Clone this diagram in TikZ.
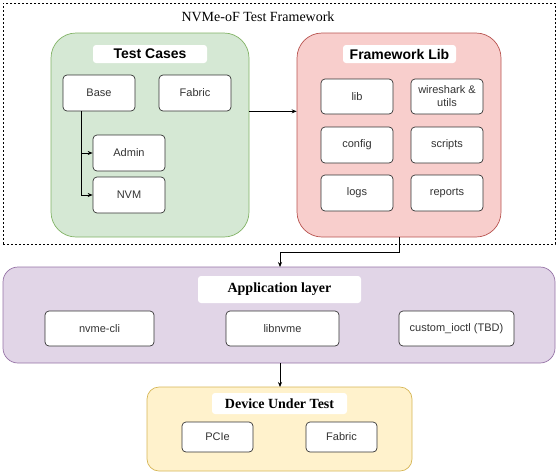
\documentclass[tikz,border=0pt]{standalone}
\usepackage{fontspec}
\setmainfont{Liberation Serif}
\setsansfont{Liberation Sans}
\usetikzlibrary{arrows.meta}
\definecolor{gfill}{HTML}{D5E8D4}\definecolor{gdraw}{HTML}{82B366}
\definecolor{rfill}{HTML}{F8CECC}\definecolor{rdraw}{HTML}{B85450}
\definecolor{pfill}{HTML}{E1D5E7}\definecolor{pdraw}{HTML}{9673A6}
\definecolor{yfill}{HTML}{FFF2CC}\definecolor{ydraw}{HTML}{D6B656}
\definecolor{inkc}{HTML}{333333}
\tikzset{
  group/.style={rounded corners=#1, line width=0.7pt, inner sep=0pt},
  lbl/.style={fill=white, rounded corners=3pt, inner sep=0pt, font=\sffamily\bfseries\fontsize{14}{16}\selectfont},
  slbl/.style={fill=white, rounded corners=3pt, inner sep=0pt, font=\rmfamily\bfseries\fontsize{14}{16}\selectfont},
  item/.style={draw=inkc, fill=white, rounded corners=4pt, line width=0.7pt, inner sep=0pt, align=center, text=inkc, font=\sffamily\fontsize{11}{13}\selectfont},
  conn/.style={line width=0.7pt, -{Stealth[length=5pt,width=4pt]}}
}
\begin{document}
\begin{tikzpicture}[x=1pt,y=-1pt]
\useasboundingbox (0,0) rectangle (559,475);
% outer dashed frame
\node[draw=black, dash pattern=on 2pt off 2pt, line width=0.6pt, minimum width=552pt, minimum height=241pt, inner sep=0pt] (frame) at (279,123.5) {};
\node[font=\rmfamily\fontsize{14}{16}\selectfont] (title) at (258,17) {NVMe-oF Test Framework};
% Test cases
\node[group=25pt, draw=gdraw, fill=gfill, minimum width=198pt, minimum height=204pt] (tc) at (150,135) {};
\node[lbl, minimum width=114pt, minimum height=18pt] (tcl) at (150,54) {Test Cases};
\node[item, minimum width=72pt, minimum height=36pt] (base) at (99,93) {Base};
\node[item, minimum width=72pt, minimum height=36pt] (fab1) at (195,93) {Fabric};
\node[item, minimum width=72pt, minimum height=36pt] (admin) at (129,153) {Admin};
\node[item, minimum width=72pt, minimum height=36pt] (nvm) at (129,195) {NVM};
% Framework lib
\node[group=25pt, draw=rdraw, fill=rfill, minimum width=204pt, minimum height=204pt] (fl) at (399,135) {};
\node[lbl, minimum width=113pt, minimum height=18pt] (fll) at (399.5,54) {Framework Lib};
\node[item, minimum width=72pt, minimum height=35pt] (lib) at (357,96.5) {lib};
\node[item, minimum width=72pt, minimum height=35pt] (wire) at (447,96.5) {wireshark \&\\utils};
\node[item, minimum width=72pt, minimum height=36pt] (config) at (357,145) {config};
\node[item, minimum width=72pt, minimum height=36pt] (scripts) at (447,145) {scripts};
\node[item, minimum width=72pt, minimum height=36pt] (logs) at (357,193) {logs};
\node[item, minimum width=72pt, minimum height=36pt] (reports) at (447,193) {reports};
% Application layer
\node[group=15pt, draw=pdraw, fill=pfill, minimum width=552pt, minimum height=96pt] (app) at (279,315) {};
\node[slbl, minimum width=163pt, minimum height=27pt] (appl) at (279.5,289.5) {Application layer};
\node[item, minimum width=109pt, minimum height=35pt] (cli) at (99.5,328.5) {nvme-cli};
\node[item, minimum width=113pt, minimum height=35pt] (libnvme) at (282.5,328.5) {libnvme};
\node[item, minimum width=115pt, minimum height=35pt] (ioctl) at (456.5,328.5) {custom\_ioctl (TBD)};
% Device under test
\node[group=12pt, draw=ydraw, fill=yfill, minimum width=265pt, minimum height=84pt] (dut) at (279.5,429) {};
\node[slbl, minimum width=135pt, minimum height=21pt] (dutl) at (279.5,403.5) {Device Under Test};
\node[item, minimum width=71pt, minimum height=30pt] (pcie) at (217.5,437) {PCIe};
\node[item, minimum width=71pt, minimum height=30pt] (fab2) at (341.5,437) {Fabric};
% connectors
\coordinate (bx) at (81,111);
\draw[conn] (bx) |- (admin.west);
\draw[conn] (bx) |- (nvm.west);
\draw[conn] (tc.east |- base.south) -- (fl.west |- base.south);
\draw[conn] (fl.south) -- ++(0,15) -| (280,267);
\draw[conn] (280,363) -- (280,387);
\end{tikzpicture}
\end{document}
